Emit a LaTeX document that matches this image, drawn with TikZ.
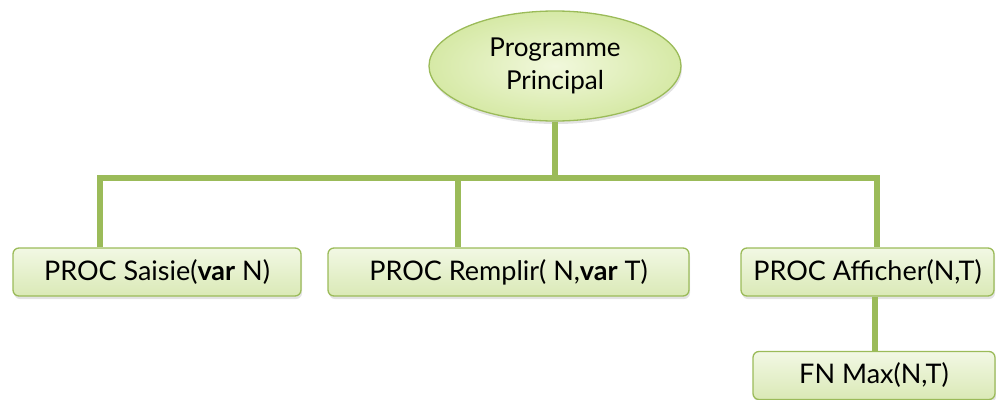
\documentclass[tikz,border=0pt]{standalone}
\usepackage{fontspec}
\setmainfont{Lato}
\usetikzlibrary{shapes.geometric,shadows}
\definecolor{olive}{HTML}{9BBB59}
\definecolor{leaftop}{HTML}{F2F8E4}
\definecolor{leafbot}{HTML}{DAE9B6}
\definecolor{rootin}{HTML}{F1F8DC}
\definecolor{rootout}{HTML}{D6E9A6}
\tikzset{
  conn/.style={draw=olive, line width=6pt},
  leaf/.style={draw=olive, line width=1.3pt, rounded corners=6pt,
    top color=leaftop, bottom color=leafbot,
    drop shadow={opacity=0.22, shadow xshift=1pt, shadow yshift=-3pt},
    minimum height=48pt, inner sep=0pt, font=\fontsize{27}{32}\selectfont},
  root/.style={ellipse, draw=olive, line width=1.3pt,
    inner color=rootin, outer color=rootout,
    drop shadow={opacity=0.22, shadow xshift=1pt, shadow yshift=-3pt},
    minimum width=252pt, minimum height=110pt, inner sep=0pt,
    align=center, font=\fontsize{26}{33}\selectfont},
}
\begin{document}
\begin{tikzpicture}[x=1pt,y=-1pt]
  \useasboundingbox (0,0) rectangle (996,399);

  % tree levels
  \node[root] (main) at (555,66) {Programme\\Principal};
  \node[leaf, minimum width=288pt] (saisie) at (157,272) {PROC Saisie(\textbf{var} N)};
  \node[leaf, minimum width=361pt] (remplir) at (508.5,272) {PROC Remplir( N,\textbf{var} T)};
  \node[leaf, minimum width=253pt] (afficher) at (867.5,272) {PROC Afficher(N,T)};
  \node[leaf, minimum width=242pt] (max) at (874,375.5) {FN Max(N,T)};

  % junction points of the connector bar
  \coordinate (hub) at (555,178);
  \coordinate (j1) at (100,178);
  \coordinate (j2) at (458,178);
  \coordinate (j3) at (877,178);
  \coordinate (j4) at (875,300);

  % connectors
  \draw[conn] (main.south) -- (hub);
  \draw[conn] (j1 |- saisie.north) -- (j1) -- (j3) -- (j3 |- afficher.north);
  \draw[conn] (j2) -- (j2 |- remplir.north);
  \draw[conn] (j4 |- afficher.south) -- (j4 |- max.north);
\end{tikzpicture}
\end{document}
